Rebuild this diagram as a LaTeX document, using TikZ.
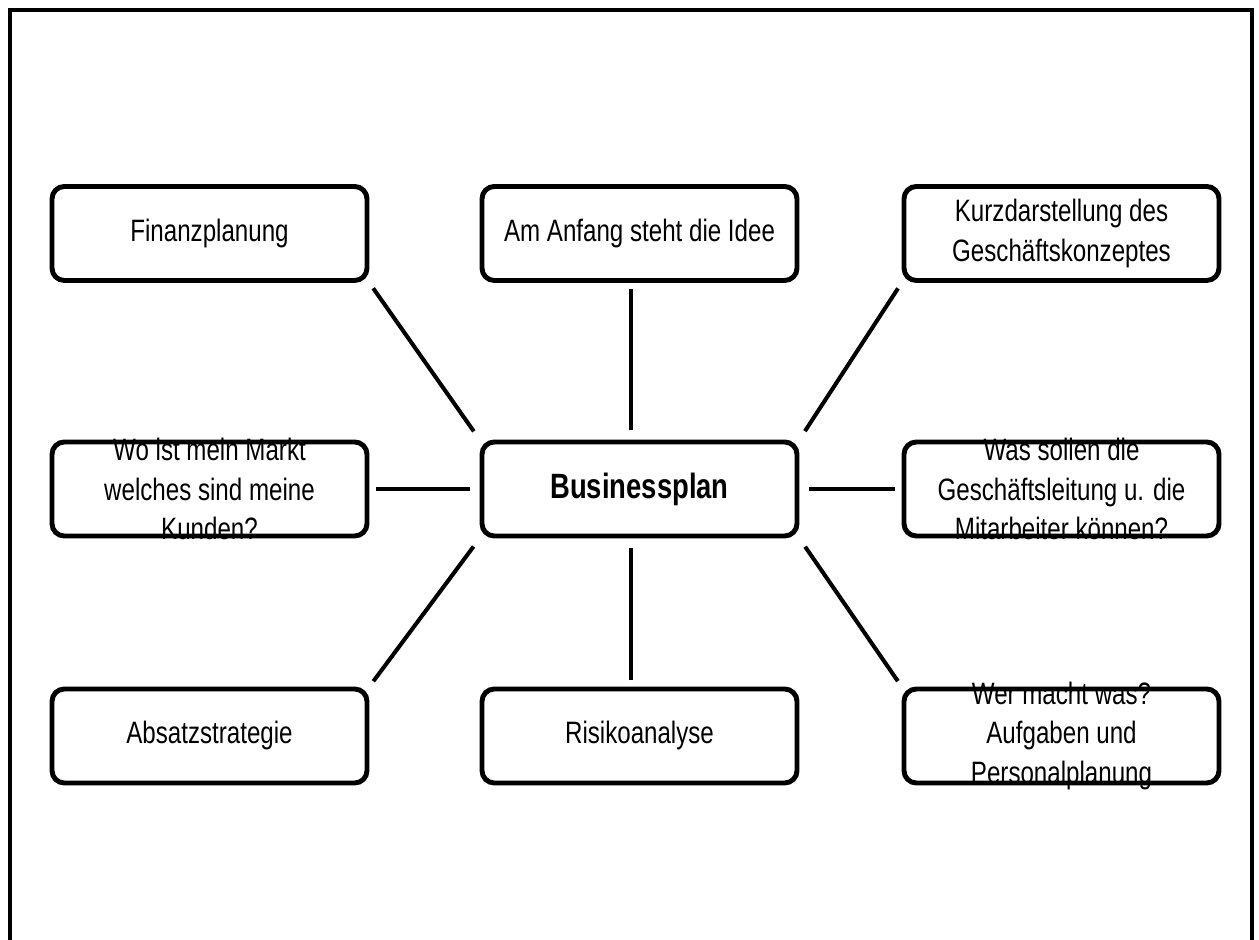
\documentclass[tikz,border=0pt]{standalone}
\usepackage{fontspec}
\setmainfont{Liberation Sans}[FakeStretch=0.78]
\usetikzlibrary{positioning}

\begin{document}
\begin{tikzpicture}[
    box/.style={draw, line width=2.8pt, rounded corners=7pt, minimum width=6.3cm, minimum height=1.88cm, inner sep=0pt},
    boxtext/.style={align=center, inner sep=0pt, font=\fontsize{17.6}{22.5}\selectfont},
    link/.style={line width=2.3pt, shorten <=0.13cm, shorten >=0.2cm}]

    \useasboundingbox (0,0) rectangle (25.18,18.8);
    % outer frame, open at the bottom
    \draw[line width=1.9pt] (0.2,0) -- (0.2,18.6) -- (25.04,18.6) -- (25.04,0);

    % centre
    \node[box, label={[boxtext, font=\fontsize{20}{24}\selectfont\bfseries]center:Businessplan}] (biz) at (12.79,9.02) {};

    % top row
    \node[box, label={[boxtext]center:Finanzplanung}] (finanz) at (4.19,14.13) {};
    \node[box, label={[boxtext]center:Am Anfang steht die Idee}] (idee) at (12.79,14.13) {};
    \node[box, label={[boxtext]center:{Kurzdarstellung des\\Geschäftskonzeptes}}] (kurz) at (21.23,14.13) {};

    % middle row
    \node[box, label={[boxtext]center:{Wo ist mein Markt\\welches sind meine\\Kunden?}}] (markt) at (4.19,9.02) {};
    \node[box, label={[boxtext]center:{Was sollen die\\Geschäftsleitung u. die\\Mitarbeiter können?}}] (leitung) at (21.23,9.02) {};

    % bottom row
    \node[box, label={[boxtext]center:Absatzstrategie}] (absatz) at (4.19,4.08) {};
    \node[box, label={[boxtext]center:Risikoanalyse}] (risiko) at (12.79,4.08) {};
    \node[box, label={[boxtext]center:{Wer macht was?\\Aufgaben und\\Personalplanung}}] (personal) at (21.23,4.08) {};

    % connectors
    \draw[link] (finanz.south east) -- (biz.north west);
    \draw[link] ([xshift=-0.17cm]idee.south) -- ([xshift=-0.17cm]biz.north);
    \draw[link] (kurz.south west) -- (biz.north east);
    \draw[link] (markt.east) -- (biz.west);
    \draw[link] (leitung.west) -- (biz.east);
    \draw[link] (absatz.north east) -- (biz.south west);
    \draw[link] ([xshift=-0.17cm]risiko.north) -- ([xshift=-0.17cm]biz.south);
    \draw[link] (personal.north west) -- (biz.south east);

\end{tikzpicture}
\end{document}
